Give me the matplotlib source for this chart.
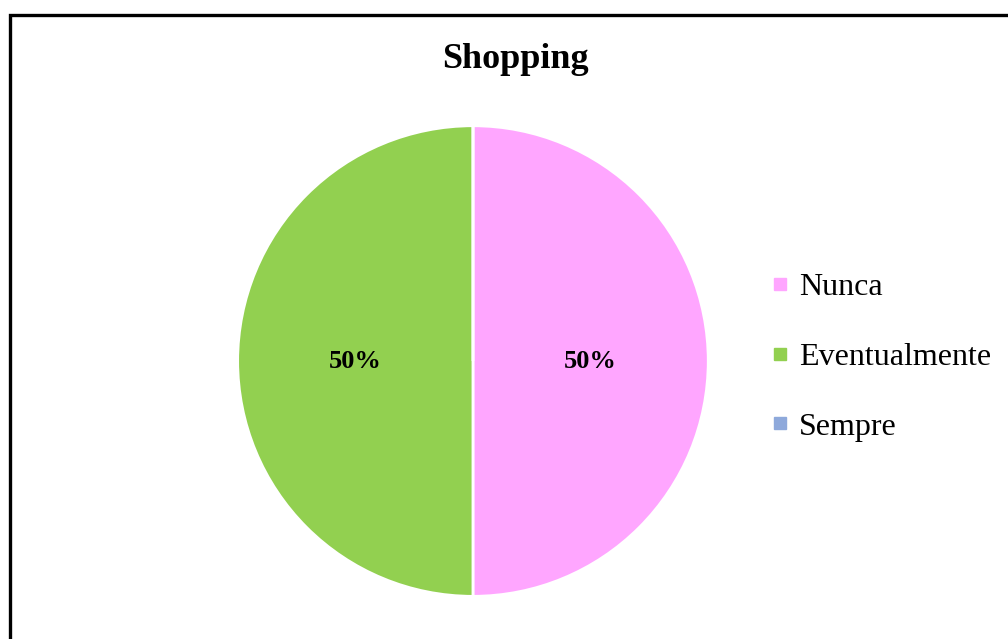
import matplotlib
matplotlib.use("Agg")
import matplotlib.pyplot as plt
from matplotlib.patches import Rectangle
from matplotlib.lines import Line2D

# ---------------- DATA ----------------
title = "Shopping"
categories = ["Nunca", "Eventualmente", "Sempre"]
values = [50, 50, 0]
colors = ["#FFA6FF", "#92D050", "#8EA9DB"]

plt.rcParams["font.family"] = ["Liberation Serif", "DejaVu Serif"]

# ---------------- FIGURE ----------------
fig = plt.figure(figsize=(10.08, 6.39), dpi=100)

# chart border (open to the right and bottom like the cropped screenshot)
fig.patches.append(Rectangle((10 / 1008, -0.1), 1.2, (639 - 15) / 639 + 0.1,
                             transform=fig.transFigure, fill=False,
                             edgecolor="black", linewidth=2.4))

ax = fig.add_axes([0.2346, 0.0649, 0.4692, 0.7402])


def pct(p):
    return f"{p:.0f}%" if p > 0.5 else ""


wedges, texts, autotexts = ax.pie(
    values, colors=colors, startangle=90, counterclock=False,
    autopct=pct, pctdistance=0.5, radius=1.0,
    wedgeprops=dict(edgecolor="white", linewidth=2.0),
    textprops=dict(fontsize=19, fontweight="bold", color="black"))
ax.set_xlim(-1.005, 1.005)
ax.set_ylim(-1.005, 1.005)

fig.text(515 / 1008, 1 - 59 / 639, title, ha="center", va="center",
         fontsize=26, fontweight="bold")

# ---------------- LEGEND ----------------
handles = [Line2D([0], [0], marker="s", linestyle="none", markersize=8.5,
                  markerfacecolor=c, markeredgecolor=c) for c in colors]
fig.legend(handles, categories, loc="center left",
           bbox_to_anchor=(770 / 1008, 1 - 357 / 639), frameon=False,
           fontsize=23, handlelength=0.6, handletextpad=0.3,
           labelspacing=1.27, borderpad=0, borderaxespad=0)

fig.savefig("out.png", dpi=100)
